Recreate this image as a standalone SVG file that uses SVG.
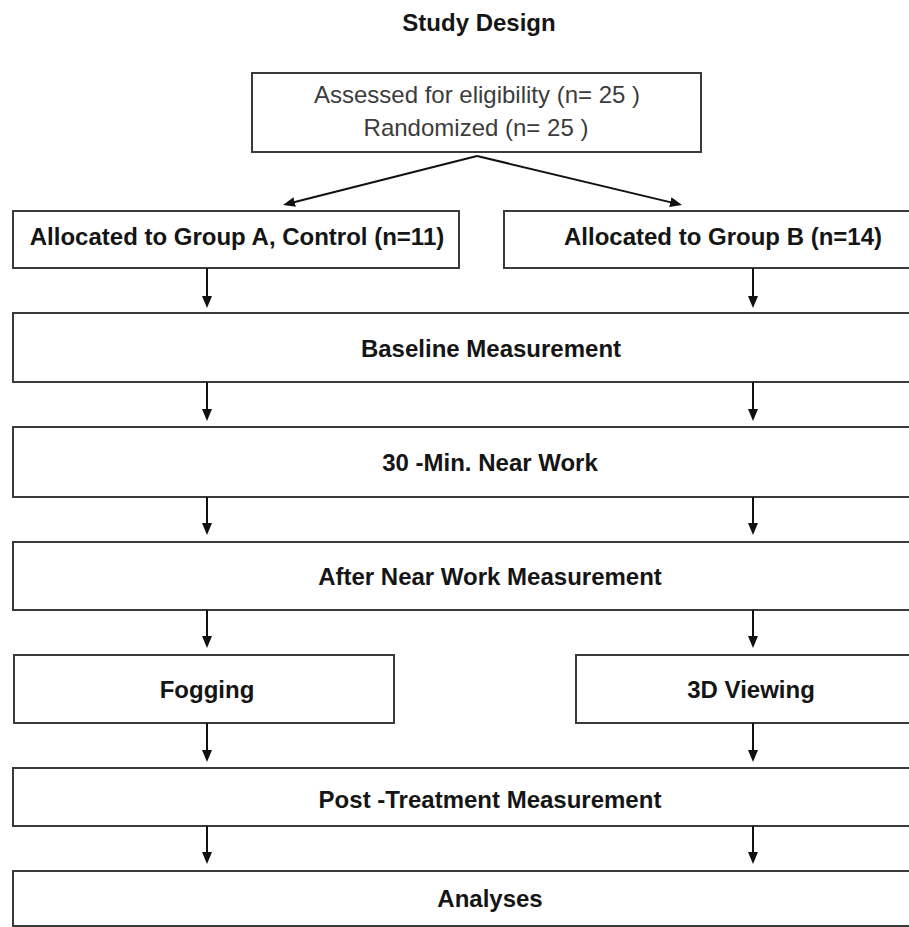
<svg xmlns="http://www.w3.org/2000/svg" width="909" height="927" viewBox="0 0 909 927">
<style>
  .box { fill: #fff; stroke: #3a3a3a; stroke-width: 2; }
  .t { font-family: "Liberation Sans", Arial, sans-serif; font-size: 24px; text-anchor: middle; }
  .b { font-weight: bold; fill: #151515; }
  .r { fill: #3c3c3c; }
  .arrow { stroke: #111; stroke-width: 2; fill: none; marker-end: url(#ah); }
</style>
<defs>
  <marker id="ah" viewBox="0 0 12 10" refX="4" refY="5" markerWidth="12" markerHeight="10" markerUnits="userSpaceOnUse" orient="auto">
    <path d="M0,0 L12,5 L0,10 z" fill="#111"/>
  </marker>
</defs>
<rect width="909" height="927" fill="#fff"/>
<text id="title" class="t b" x="479" y="31">Study Design</text>

<g id="assessed">
  <rect class="box" x="252" y="73" width="449" height="79"/>
  <text class="t r" x="477" y="103">Assessed for eligibility (n= 25 )</text>
  <text class="t r" x="476" y="136">Randomized (n= 25 )</text>
</g>
<g id="groupA">
  <rect class="box" x="13" y="211" width="446" height="57"/>
  <text class="t b" x="237" y="245">Allocated to Group A, Control (n=11)</text>
</g>
<g id="groupB">
  <rect class="box" x="504" y="211" width="420" height="57"/>
  <text class="t b" x="723" y="245">Allocated to Group B (n=14)</text>
</g>
<g id="baseline">
  <rect class="box" x="13" y="313" width="920" height="69"/>
  <text class="t b" x="491" y="357">Baseline Measurement</text>
</g>
<g id="nearwork">
  <rect class="box" x="13" y="427" width="920" height="70"/>
  <text class="t b" x="490" y="471">30 -Min. Near Work</text>
</g>
<g id="afternear">
  <rect class="box" x="13" y="542" width="920" height="68"/>
  <text class="t b" x="490" y="585">After Near Work Measurement</text>
</g>
<g id="fogging">
  <rect class="box" x="14" y="655" width="380" height="68"/>
  <text class="t b" x="207" y="698">Fogging</text>
</g>
<g id="viewing3d">
  <rect class="box" x="576" y="655" width="400" height="68"/>
  <text class="t b" x="751" y="698">3D Viewing</text>
</g>
<g id="posttreatment">
  <rect class="box" x="13" y="768" width="920" height="58"/>
  <text class="t b" x="490" y="808">Post -Treatment Measurement</text>
</g>
<g id="analyses">
  <rect class="box" x="13" y="871" width="920" height="55"/>
  <text class="t b" x="490" y="907">Analyses</text>
</g>

<g id="connectors">
  <line class="arrow" x1="477" y1="156" x2="290.8" y2="203"/>
  <line class="arrow" x1="477" y1="156" x2="674.2" y2="203.1"/>
  <line class="arrow" x1="207" y1="268" x2="207" y2="300"/>
  <line class="arrow" x1="753" y1="268" x2="753" y2="300"/>
  <line class="arrow" x1="207" y1="382" x2="207" y2="413"/>
  <line class="arrow" x1="753" y1="382" x2="753" y2="413"/>
  <line class="arrow" x1="207" y1="497" x2="207" y2="527"/>
  <line class="arrow" x1="753" y1="497" x2="753" y2="527"/>
  <line class="arrow" x1="207" y1="610" x2="207" y2="640"/>
  <line class="arrow" x1="753" y1="610" x2="753" y2="640"/>
  <line class="arrow" x1="207" y1="723" x2="207" y2="754"/>
  <line class="arrow" x1="753" y1="723" x2="753" y2="754"/>
  <line class="arrow" x1="207" y1="826" x2="207" y2="856"/>
  <line class="arrow" x1="753" y1="826" x2="753" y2="856"/>
</g>
</svg>
